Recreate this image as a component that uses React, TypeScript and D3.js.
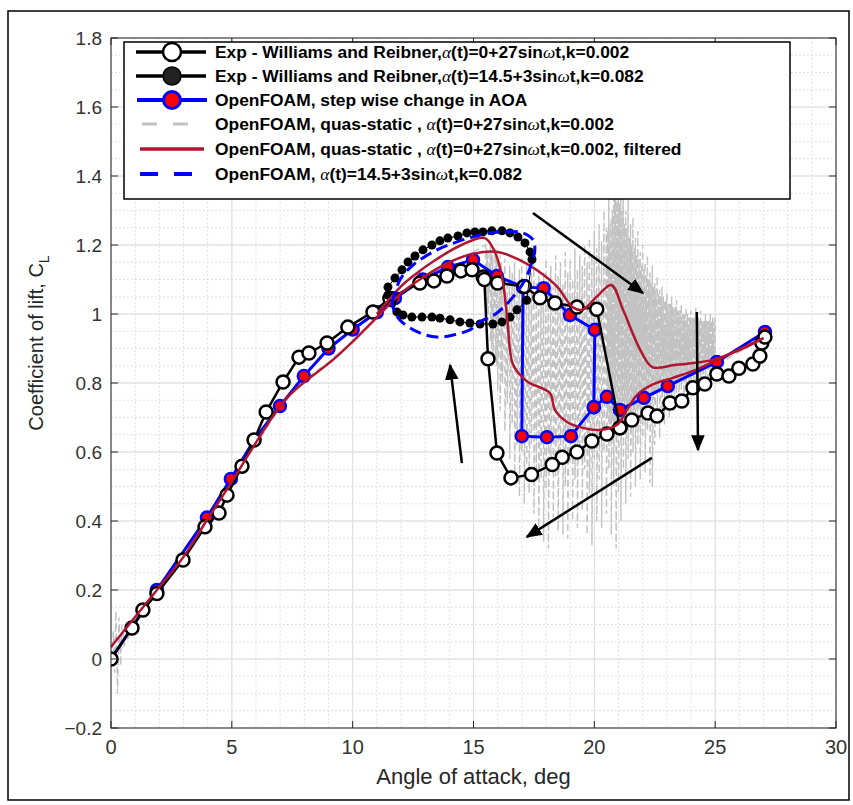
import React from 'react';
import * as d3 from 'd3';

const W = 853, H = 805;
const PL = 111, PR = 836, PT = 38, PB = 728;

const xTicks = [0, 5, 10, 15, 20, 25, 30];
const yTicks = [-0.2, 0, 0.2, 0.4, 0.6, 0.8, 1, 1.2, 1.4, 1.6, 1.8];

// Exp - Williams and Reibner, k=0.002 (open circles)
const exp1Up: [number, number][] = [
  [0, 0], [0.87, 0.09], [1.32, 0.142], [1.9, 0.19], [2.98, 0.287], [3.89, 0.383], [4.47, 0.423],
  [4.8, 0.475], [5.42, 0.559], [5.92, 0.635], [6.42, 0.716], [7.12, 0.803], [7.78, 0.875],
  [8.19, 0.887], [8.94, 0.916], [9.8, 0.962], [10.84, 1.006], [11.54, 1.045], [12.78, 1.09],
  [13.36, 1.096], [13.9, 1.11], [14.48, 1.125], [14.94, 1.128], [15.4, 1.107], [16.0, 1.09],
  [17.1, 1.08], [17.75, 1.047], [18.37, 1.032], [19.28, 1.02], [20.1, 1.014], [21.06, 0.67],
  [21.55, 0.693], [22.22, 0.713], [22.59, 0.704], [23.13, 0.742], [23.62, 0.748], [24.08, 0.786],
  [24.57, 0.797], [25.07, 0.826], [25.57, 0.82], [25.98, 0.843], [26.56, 0.855], [26.85, 0.878],
  [26.93, 0.916], [27.06, 0.933],
];
const exp1Down: [number, number][] = [
  [21.06, 0.67], [20.52, 0.652], [19.9, 0.632], [19.28, 0.6], [18.67, 0.585], [18.26, 0.564],
  [17.4, 0.535], [16.55, 0.525], [15.97, 0.597], [15.6, 0.87], [15.45, 1.1],
];

// Exp - Williams and Reibner, k=0.082 (filled dots)
const exp2Loop: [number, number][] = [
  [11.46, 1.078], [11.75, 1.104], [12.04, 1.128], [12.29, 1.151], [12.58, 1.168], [12.91, 1.186],
  [13.28, 1.2], [13.61, 1.212], [13.94, 1.22], [14.36, 1.226], [14.73, 1.235], [15.06, 1.238],
  [15.39, 1.238], [15.76, 1.241], [16.18, 1.241], [16.51, 1.235], [16.84, 1.223], [17.13, 1.206],
  [17.34, 1.18], [17.42, 1.158], [17.2, 1.04], [16.8, 1.012], [16.51, 0.991], [16.18, 0.977],
  [15.8, 0.971], [15.27, 0.971], [14.85, 0.974], [14.44, 0.977], [14.03, 0.983], [13.61, 0.988],
  [13.28, 0.991], [12.87, 0.991], [12.45, 0.991], [12.08, 0.997], [11.83, 1.006], [11.63, 1.032],
  [11.46, 1.055],
];

// OpenFOAM step wise change in AOA
const stepA: [number, number][] = [
  [0, 0], [1.9, 0.2], [3.97, 0.41], [4.96, 0.522], [5.92, 0.635], [6.99, 0.733], [7.98, 0.82],
  [9, 0.9], [10, 0.955], [11, 1.005], [11.75, 1.046], [12.9, 1.1], [13.94, 1.136], [14.98, 1.157],
  [15.97, 1.11], [17.05, 1.078], [17.9, 1.075], [18.99, 0.997], [20.02, 0.954], [19.98, 0.73],
  [20.52, 0.76], [21.06, 0.722], [22.05, 0.757], [23.04, 0.791], [25.07, 0.861], [27.06, 0.948],
];
const stepB: [number, number][] = [
  [19.98, 0.73], [19.03, 0.646], [18.04, 0.643], [17.0, 0.646], [17.05, 1.078],
];

// OpenFOAM quasi-static (raw): smooth part, oscillating part [x, high, low], dense core [x, high, low]
const qsStart: [number, number][] = [
  [0, 0.0], [0.1, 0.08], [0.15, -0.04], [0.2, 0.14], [0.27, -0.1], [0.33, 0.12], [0.4, -0.02],
  [0.45, 0.1], [0.55, 0.04], [1, 0.1], [2, 0.2], [3, 0.3], [4, 0.4], [5, 0.52], [6, 0.62],
  [7, 0.73], [8, 0.81], [9, 0.86], [10, 0.92], [11, 0.99], [12, 1.06], [13, 1.11], [14, 1.15],
  [15, 1.18],
];
const qsOsc: [number, number, number][] = [
  [15.5, 1.2, 1.05], [15.6, 1.18, 0.98], [15.7, 1.21, 0.92], [15.8, 1.17, 0.85], [15.9, 1.19, 0.88],
  [16.0, 1.15, 0.78], [16.1, 1.17, 0.72], [16.2, 1.12, 0.8], [16.3, 1.16, 0.66], [16.4, 1.1, 0.74],
  [16.5, 1.14, 0.58], [16.6, 1.12, 0.68], [16.7, 1.15, 0.52], [16.8, 1.09, 0.62], [16.9, 1.13, 0.47],
  [17.0, 1.16, 0.6], [17.1, 1.1, 0.45], [17.2, 1.14, 0.56], [17.3, 1.08, 0.48], [17.4, 1.12, 0.62],
  [17.5, 1.15, 0.42], [17.6, 1.09, 0.55], [17.7, 1.13, 0.38], [17.8, 1.07, 0.52], [17.9, 1.12, 0.34],
  [18.0, 1.16, 0.49], [18.1, 1.1, 0.32], [18.2, 1.14, 0.58], [18.3, 1.08, 0.41], [18.4, 1.17, 0.53],
  [18.5, 1.11, 0.37], [18.6, 1.15, 0.6], [18.7, 1.09, 0.36], [18.8, 1.18, 0.5], [18.9, 1.12, 0.35],
  [19.0, 1.16, 0.57], [19.1, 1.1, 0.4], [19.2, 1.19, 0.52], [19.3, 1.13, 0.38], [19.4, 1.17, 0.59],
  [19.5, 1.14, 0.43], [19.6, 1.2, 0.55], [19.7, 1.15, 0.36], [19.8, 1.22, 0.48], [19.9, 1.17, 0.33],
  [20.0, 1.24, 0.58], [20.1, 1.19, 0.4], [20.2, 1.26, 0.52], [20.3, 1.21, 0.38], [20.4, 1.3, 0.6],
  [20.5, 1.25, 0.42], [20.6, 1.34, 0.55], [20.7, 1.28, 0.36], [20.8, 1.4, 0.5], [20.9, 1.54, 0.32],
  [21.0, 1.46, 0.48], [21.1, 1.36, 0.4], [21.2, 1.42, 0.55], [21.3, 1.3, 0.45], [21.4, 1.33, 0.58],
  [21.5, 1.26, 0.47], [21.6, 1.28, 0.6], [21.7, 1.22, 0.5], [21.8, 1.24, 0.62], [21.9, 1.18, 0.52],
  [22.0, 1.2, 0.64], [22.1, 1.15, 0.54], [22.2, 1.17, 0.66], [22.3, 1.12, 0.51], [22.4, 1.14, 0.5],
  [22.5, 1.09, 0.62], [22.6, 1.11, 0.7], [22.7, 1.07, 0.64], [22.8, 1.08, 0.72], [22.9, 1.04, 0.68],
  [23.0, 1.06, 0.74], [23.1, 1.03, 0.7], [23.2, 1.05, 0.76], [23.3, 1.02, 0.72], [23.4, 1.04, 0.77],
  [23.5, 1.01, 0.74], [23.6, 1.03, 0.78], [23.7, 1.0, 0.75], [23.8, 1.02, 0.79], [23.9, 0.99, 0.76],
  [24.0, 1.01, 0.8], [24.1, 0.99, 0.77], [24.2, 1.02, 0.8], [24.3, 0.99, 0.78], [24.4, 1.01, 0.81],
  [24.5, 0.98, 0.79], [24.6, 1.0, 0.82], [24.7, 0.98, 0.8], [24.8, 1.0, 0.82], [24.9, 0.99, 0.81],
  [25.0, 0.99, 0.83],
];
const qsCore: [number, number, number][] = [
  [15.55, 1.19, 1.0], [15.75, 1.18, 0.9], [15.95, 1.16, 0.85], [16.15, 1.15, 0.82],
  [20.55, 1.24, 0.7], [20.65, 1.26, 0.68], [20.75, 1.3, 0.7], [20.85, 1.35, 0.68], [20.95, 1.38, 0.7],
  [21.05, 1.32, 0.69], [21.15, 1.3, 0.71], [21.25, 1.26, 0.7], [21.35, 1.25, 0.72], [21.45, 1.22, 0.71],
  [21.55, 1.2, 0.73], [21.65, 1.19, 0.72], [21.75, 1.17, 0.74], [21.85, 1.16, 0.73], [21.95, 1.14, 0.75],
  [22.05, 1.13, 0.75], [22.15, 1.11, 0.76], [22.25, 1.1, 0.76], [22.35, 1.09, 0.77], [22.45, 1.08, 0.77],
  [22.55, 1.07, 0.78], [22.65, 1.06, 0.78], [22.75, 1.05, 0.78], [22.85, 1.05, 0.79], [22.95, 1.04, 0.79],
  [23.05, 1.03, 0.79], [23.15, 1.03, 0.8], [23.25, 1.02, 0.8], [23.35, 1.02, 0.8], [23.45, 1.01, 0.81],
  [23.55, 1.01, 0.81], [23.65, 1.0, 0.81], [23.75, 1.0, 0.82], [23.85, 1.0, 0.82], [23.95, 0.99, 0.82],
  [24.05, 0.99, 0.82], [24.15, 0.99, 0.83], [24.25, 0.99, 0.83], [24.35, 0.98, 0.83], [24.45, 0.98, 0.83],
  [24.55, 0.98, 0.84], [24.65, 0.98, 0.84], [24.75, 0.98, 0.84], [24.85, 0.98, 0.85], [24.95, 0.98, 0.85],
];
const qsEnd: [number, number][] = [[25.5, 0.87], [26, 0.89], [27, 0.93]];

// OpenFOAM quasi-static, filtered
const redUp: [number, number][] = [
  [0, 0.035], [1.9, 0.2], [3, 0.296], [3.97, 0.403], [5.05, 0.519], [5.88, 0.614], [7.28, 0.757],
  [9.18, 0.867], [10, 0.92], [11, 0.99], [12, 1.06], [13, 1.11], [14, 1.15], [15, 1.175], [16, 1.18],
  [16.9, 1.157], [17.6, 1.128], [18.45, 1.08], [19.1, 1.02], [19.5, 1.012], [20.1, 1.05],
  [20.7, 1.084], [21.2, 1.01], [21.9, 0.896], [22.4, 0.846], [23.3, 0.852], [24.1, 0.858],
  [24.9, 0.867], [26, 0.895], [27, 0.93],
];
const redDown: [number, number][] = [
  [27, 0.93], [25.07, 0.867], [24.08, 0.835], [23.25, 0.815], [22.4, 0.795], [21.76, 0.765],
  [21.35, 0.722], [20.93, 0.678], [20.23, 0.664], [19.53, 0.67], [18.87, 0.687], [18.37, 0.722],
  [18.16, 0.771], [17.25, 0.803], [16.85, 0.83], [16.6, 0.86], [16.4, 0.983], [16.2, 1.1],
  [15.9, 1.177], [15.47, 1.22], [14.5, 1.2], [13.5, 1.16], [12.5, 1.11], [12, 1.08], [11, 1.0],
];

// OpenFOAM alpha = 14.5 + 3 sin wt, k=0.082 (dashed loop)
const dashLoop: [number, number][] = [
  [11.63, 1.032], [11.96, 1.099], [12.5, 1.142], [13.49, 1.186], [14.32, 1.209], [15.27, 1.229],
  [16.22, 1.238], [17.05, 1.235], [17.46, 1.215], [17.54, 1.186], [17.42, 1.151], [17.13, 1.099],
  [16.63, 1.049], [15.97, 1.003], [15.27, 0.977], [14.85, 0.954], [14.15, 0.939], [13.49, 0.933],
  [12.78, 0.945], [12.08, 0.974], [11.75, 1.003], [11.63, 1.032],
];

// Annotation arrows [x0, y0, x1, y1] in data units
const arrows: [number, number, number, number][] = [
  [17.46, 1.293, 22.01, 1.061],
  [14.52, 0.568, 14.03, 0.852],
  [24.24, 1.006, 24.29, 0.606],
  [22.38, 0.583, 17.21, 0.354],
];

const legendLabels = [
  'Exp - Williams and Reibner,α(t)=0+27sinωt,k=0.002',
  'Exp - Williams and Reibner,α(t)=14.5+3sinωt,k=0.082',
  'OpenFOAM, step wise change in AOA',
  'OpenFOAM, quas-static , α(t)=0+27sinωt,k=0.002',
  'OpenFOAM, quas-static , α(t)=0+27sinωt,k=0.002, filtered',
  'OpenFOAM, α(t)=14.5+3sinωt,k=0.082',
];

const BLUE = '#0000ff';
const REDF = '#ff0000';
const CRIMSON = '#b0172e';
const GRAY = '#c2c2c2';

function Label({ s }: { s: string }) {
  const parts = s.split(/([αω])/);
  return (
    <>
      {parts.map((p, i) =>
        p === 'α' || p === 'ω' ? (
          <tspan key={i} fontFamily="'Liberation Serif', serif" fontStyle="italic" fontWeight="normal">{p}</tspan>
        ) : (
          <tspan key={i}>{p}</tspan>
        )
      )}
    </>
  );
}

export default function App() {
  const x = d3.scaleLinear().domain([0, 30]).range([PL, PR]);
  const y = d3.scaleLinear().domain([-0.2, 1.8]).range([PB, PT]);
  const line = d3.line<[number, number]>().x(d => x(d[0])).y(d => y(d[1]));
  const smooth = d3.line<[number, number]>().x(d => x(d[0])).y(d => y(d[1])).curve(d3.curveCatmullRom.alpha(0.5));

  const xMinor = d3.range(0, 30.001, 1);
  const yMinor = d3.range(-0.2, 1.8001, 0.05);

  const qsPts: [number, number][] = [...qsStart];
  qsOsc.forEach(r => { qsPts.push([r[0], r[1]]); qsPts.push([r[0], r[2]]); });
  qsEnd.forEach(p => qsPts.push(p));
  const coreA: [number, number][] = [];
  const coreB: [number, number][] = [];
  qsCore.forEach(r => {
    const target = r[0] < 18 ? coreA : coreB;
    target.push([r[0], r[1]]); target.push([r[0], r[2]]);
  });

  const font = "'Liberation Sans', Arial, sans-serif";
  const narrow = "'Liberation Sans Narrow', 'Arial Narrow', 'Liberation Sans', sans-serif";
  const legRows = [52, 76, 100, 124, 149, 174];

  return (
    <svg width={W} height={H} style={{ position: 'absolute', left: 0, top: 0, background: '#fff' }}>
      <defs>
        <marker id="ah" viewBox="0 0 10 10" refX="9" refY="5" markerWidth="6.5" markerHeight="6.5" orient="auto">
          <path d="M0,0.8 L10,5 L0,9.2 z" fill="#000" />
        </marker>
        <clipPath id="plot"><rect x={PL} y={PT} width={PR - PL} height={PB - PT} /></clipPath>
      </defs>
      <rect x={0} y={0} width={W} height={H} fill="#fff" />
      <rect x={8} y={11} width={841} height={789} fill="none" stroke="#000" strokeWidth={1.5} />

      {/* minor grid */}
      <g stroke="#d8d8d8" strokeWidth={1} strokeDasharray="1.5,2.5">
        {xMinor.map(v => <line key={'xm' + v} x1={x(v)} x2={x(v)} y1={PT} y2={PB} />)}
        {yMinor.map(v => <line key={'ym' + v} x1={PL} x2={PR} y1={y(v)} y2={y(v)} />)}
      </g>
      {/* major grid */}
      <g stroke="#dcdcdc" strokeWidth={1}>
        {xTicks.map(v => <line key={'xg' + v} x1={x(v)} x2={x(v)} y1={PT} y2={PB} />)}
        {yTicks.map(v => <line key={'yg' + v} x1={PL} x2={PR} y1={y(v)} y2={y(v)} />)}
      </g>

      <g clipPath="url(#plot)">
        {/* quasi-static raw */}
        <path d={line(qsPts) || ''} fill="none" stroke={GRAY} strokeWidth={1.4} strokeDasharray="7,4" />
        <path d={line(coreA) || ''} fill="none" stroke={GRAY} strokeWidth={1.5} strokeDasharray="10,2" />
        <path d={line(coreB) || ''} fill="none" stroke={GRAY} strokeWidth={1.5} strokeDasharray="10,2" />

        {/* step wise */}
        <path d={line(stepA) || ''} fill="none" stroke={BLUE} strokeWidth={3} strokeLinejoin="round" />
        <path d={line(stepB) || ''} fill="none" stroke={BLUE} strokeWidth={3} strokeLinejoin="round" />
        {[...stepA, ...stepB].map((d, i) => (
          <circle key={'s' + i} cx={x(d[0])} cy={y(d[1])} r={6} fill={REDF} stroke={BLUE} strokeWidth={2.5} />
        ))}

        {/* exp k=0.002 */}
        <path d={line(exp1Up) || ''} fill="none" stroke="#000" strokeWidth={2.5} strokeLinejoin="round" />
        <path d={line(exp1Down) || ''} fill="none" stroke="#000" strokeWidth={2.5} strokeLinejoin="round" />
        {[...exp1Up, ...exp1Down].map((d, i) => (
          <circle key={'e' + i} cx={x(d[0])} cy={y(d[1])} r={6.5} fill="#fff" stroke="#000" strokeWidth={2.5} />
        ))}

        {/* exp k=0.082 */}
        <path d={line(exp2Loop) || ''} fill="none" stroke="#000" strokeWidth={1} />
        {exp2Loop.map((d, i) => (
          <circle key={'f' + i} cx={x(d[0])} cy={y(d[1])} r={4.5} fill="#000" />
        ))}

        {/* filtered */}
        <path d={smooth(redUp) || ''} fill="none" stroke={CRIMSON} strokeWidth={2.5} />
        <path d={smooth(redDown) || ''} fill="none" stroke={CRIMSON} strokeWidth={2.5} />

        {/* dashed loop */}
        <path d={smooth(dashLoop) || ''} fill="none" stroke={BLUE} strokeWidth={3} strokeDasharray="12,6" />

        {/* arrows */}
        {arrows.map((a, i) => (
          <line key={'a' + i} x1={x(a[0])} y1={y(a[1])} x2={x(a[2])} y2={y(a[3])} stroke="#000" strokeWidth={2.5} markerEnd="url(#ah)" />
        ))}
      </g>

      {/* axes box */}
      <rect x={PL} y={PT} width={PR - PL} height={PB - PT} fill="none" stroke="#262626" strokeWidth={1} />
      <g stroke="#262626" strokeWidth={1}>
        {xTicks.map(v => (
          <g key={'xt' + v}>
            <line x1={x(v)} x2={x(v)} y1={PB} y2={PB - 7} />
            <line x1={x(v)} x2={x(v)} y1={PT} y2={PT + 7} />
          </g>
        ))}
        {yTicks.map(v => (
          <g key={'yt' + v}>
            <line x1={PL} x2={PL + 7} y1={y(v)} y2={y(v)} />
            <line x1={PR} x2={PR - 7} y1={y(v)} y2={y(v)} />
          </g>
        ))}
      </g>
      <g fill="#333" fontFamily={narrow} fontSize={20} textAnchor="middle">
        {xTicks.map(v => (
          <text key={'xl' + v} x={x(v)} y={PB + 26}>{v}</text>
        ))}
      </g>
      <g fill="#333" fontFamily={font} fontSize={19} textAnchor="end">
        {yTicks.map(v => (
          <text key={'yl' + v} x={PL - 9} y={y(v) + 7}>{d3.format('~g')(+v.toFixed(1))}</text>
        ))}
      </g>
      <text x={(PL + PR) / 2} y={784} textAnchor="middle" fontFamily={narrow} fontSize={22} fill="#262626">Angle of attack, deg</text>
      <text transform={`translate(43,343) rotate(-90)`} textAnchor="middle" fontFamily={font} fontSize={20} fill="#262626">
        Coefficient of lift, C<tspan fontSize={14} dy={6}>L</tspan>
      </text>

      {/* legend */}
      <rect x={124} y={42} width={666} height={157} fill="#fff" stroke="#000" strokeWidth={1.5} />
      <g>
        <line x1={136} x2={206} y1={legRows[0]} y2={legRows[0]} stroke="#000" strokeWidth={3.5} />
        <circle cx={172} cy={legRows[0]} r={9} fill="#fff" stroke="#000" strokeWidth={2.5} />
        <line x1={136} x2={206} y1={legRows[1]} y2={legRows[1]} stroke="#000" strokeWidth={3.5} />
        <circle cx={172} cy={legRows[1]} r={9} fill="#222" stroke="#000" strokeWidth={1.5} />
        <line x1={137} x2={207} y1={legRows[2]} y2={legRows[2]} stroke={BLUE} strokeWidth={4} />
        <circle cx={172} cy={legRows[2]} r={8.5} fill={REDF} stroke={BLUE} strokeWidth={3} />
        <line x1={142} x2={190} y1={legRows[3]} y2={legRows[3]} stroke={GRAY} strokeWidth={3} strokeDasharray="15,16" />
        <line x1={140} x2={204} y1={legRows[4]} y2={legRows[4]} stroke={CRIMSON} strokeWidth={3.5} />
        <line x1={140} x2={192} y1={legRows[5]} y2={legRows[5]} stroke={BLUE} strokeWidth={4} strokeDasharray="18,16" />
      </g>
      <g fontFamily={font} fontSize={17.4} fontWeight="bold" fill="#000">
        {legendLabels.map((s, i) => (
          <text key={'lg' + i} x={215} y={legRows[i] + 6}><Label s={s} /></text>
        ))}
      </g>
    </svg>
  );
}
